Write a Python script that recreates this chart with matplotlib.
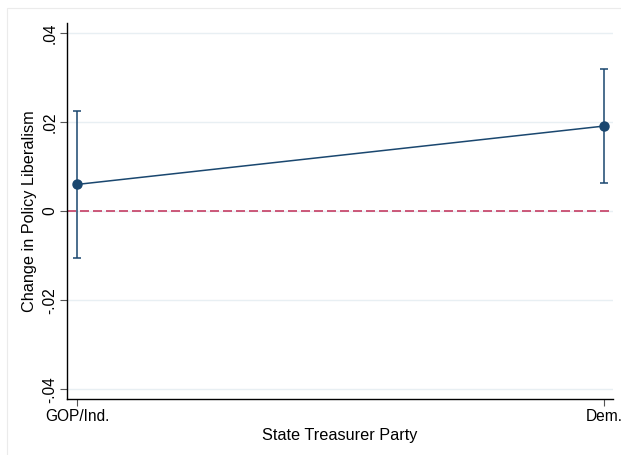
import matplotlib.pyplot as plt
from matplotlib.patches import Rectangle

plt.rcParams['font.family'] = ['Liberation Sans', 'DejaVu Sans']

# Party of the state treasurer and estimated effect with 95% CI
parties = ['GOP/Ind.', 'Dem.']
estimate = [0.0060, 0.0191]
ci_low = [-0.0105, 0.0064]
ci_high = [0.0225, 0.0319]
y_ticks = [-0.04, -0.02, 0, 0.02, 0.04]
y_tick_labels = ['-.04', '-.02', '0', '.02', '.04']

navy = '#1a476f'
red = '#c43d63'

fig = plt.figure(figsize=(6.21, 4.55), dpi=100)
ax = fig.add_axes([0.108, 0.123, 0.879, 0.826])

# faint outer frame of the graph region
fig.patches.append(Rectangle((6.5 / 621, -0.1), 1.2, 1 - 7.5 / 455 + 0.1,
                             transform=fig.transFigure, fill=False,
                             edgecolor='#ebebeb', linewidth=0.8))

x = list(range(len(parties)))
yerr = [[e - lo for e, lo in zip(estimate, ci_low)],
        [hi - e for e, hi in zip(estimate, ci_high)]]

ax.axhline(0, color=red, linewidth=1.2, dashes=(5.4, 2.4), zorder=2)
ax.errorbar(x, estimate, yerr=yerr, fmt='o-', color=navy, ecolor=navy,
            elinewidth=1.1, capsize=3, capthick=1.1, markersize=6.5,
            linewidth=1.1, zorder=3)

ax.set_xlim(-0.0196, 1.017)
ax.set_ylim(-0.0422, 0.0422)
ax.set_xticks(x)
ax.set_xticklabels(parties)
ax.set_yticks(y_ticks)
ax.set_yticklabels(y_tick_labels, rotation=90, va='center')
ax.grid(axis='y', color='#e8eff3', linewidth=1.0)
ax.set_axisbelow(True)

for side in ['top', 'right']:
    ax.spines[side].set_visible(False)
for side in ['left', 'bottom']:
    ax.spines[side].set_linewidth(1.0)
ax.tick_params(axis='both', length=5, width=0.8, color='#555555',
               labelsize=11.2, pad=2)

ax.set_xlabel('State Treasurer Party', fontsize=11.7, labelpad=3)
ax.set_ylabel('Change in Policy Liberalism', fontsize=11.7, labelpad=4)

fig.savefig('out.png', dpi=100)
